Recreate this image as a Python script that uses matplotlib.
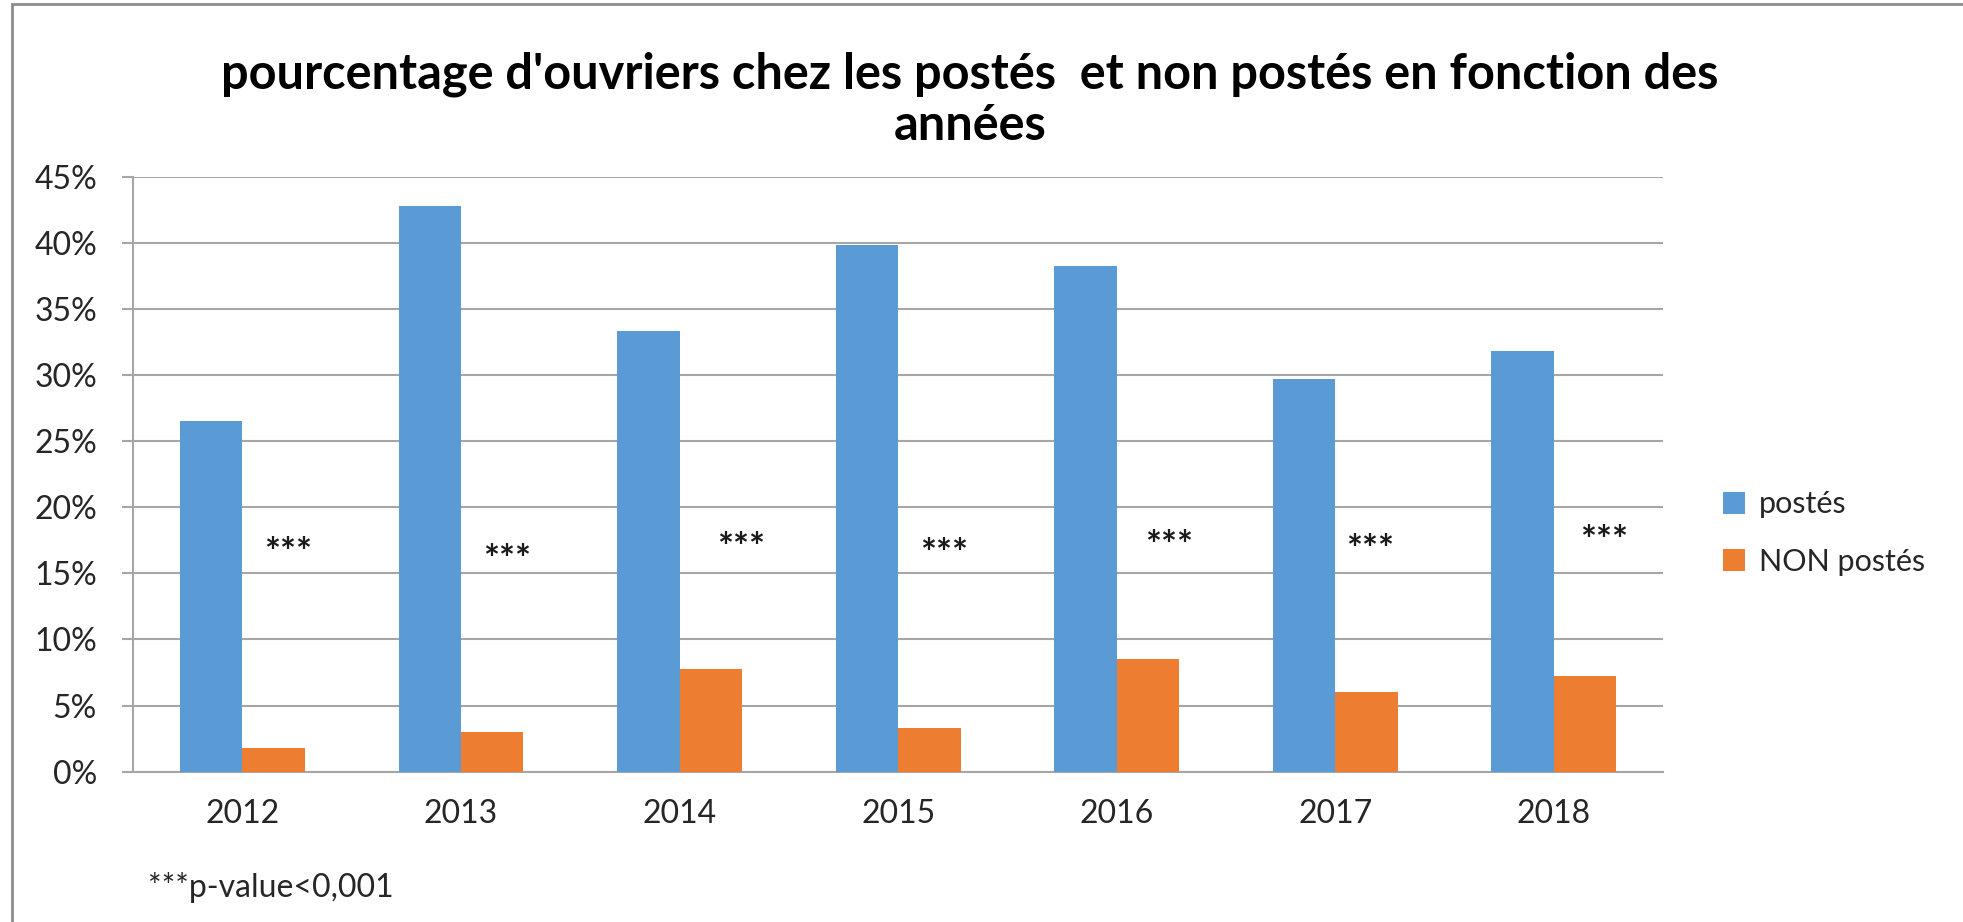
import matplotlib
matplotlib.use("Agg")
import matplotlib.pyplot as plt
import numpy as np
from matplotlib.patches import Rectangle

years = ['2012', '2013', '2014', '2015', '2016', '2017', '2018']
postes = [0.265, 0.428, 0.333, 0.398, 0.382, 0.297, 0.318]
non_postes = [0.018, 0.030, 0.078, 0.033, 0.085, 0.060, 0.072]
# where the *** marks sit (offset from category centre, height in %)
star_dx = [0.21, 0.21, 0.28, 0.21, 0.24, 0.16, 0.23]
star_y = [0.171, 0.166, 0.175, 0.170, 0.176, 0.173, 0.180]

plt.rcParams['font.family'] = ['Lato', 'DejaVu Sans']

fig = plt.figure(figsize=(19.63, 9.22), dpi=100)
ax = fig.add_axes([0.0678, 0.163, 0.7795, 0.6455])

x = np.arange(len(years))
w = 1 / 3.5
ax.bar(x - w / 2, postes, w, color='#5B9BD5', label='postés', zorder=3)
ax.bar(x + w / 2, non_postes, w, color='#ED7D31', label='NON postés', zorder=3)

for i in range(len(years)):
    ax.annotate('***', (x[i] + star_dx[i], star_y[i]), xytext=(0, -6),
                textcoords='offset points', ha='center', va='center',
                fontsize=27, fontweight='bold', color='#1a1a1a', zorder=4)

ax.set_xlim(-0.5, len(years) - 0.5)
ax.set_ylim(0, 0.45)
ax.set_yticks(np.arange(0, 0.451, 0.05))
ax.set_yticklabels([f'{int(round(v * 100))}%' for v in np.arange(0, 0.451, 0.05)])
ax.set_xticks(x)
ax.set_xticklabels(years)
ax.yaxis.grid(True, color='#a6a6a6', linewidth=1.5, zorder=0)
ax.tick_params(axis='y', length=8, width=1.5, color='#a6a6a6', labelsize=23,
               labelcolor='#262626', pad=18)
ax.tick_params(axis='x', length=0, labelsize=23, labelcolor='#262626', pad=20)
for s in ['top', 'right']:
    ax.spines[s].set_visible(False)
for s in ['left', 'bottom']:
    ax.spines[s].set_color('#a6a6a6')
    ax.spines[s].set_linewidth(1.5)

fig.text(0.494, 0.892,
         "pourcentage d'ouvriers chez les postés  et non postés en fonction des\nannées",
         ha='center', va='center', fontsize=35, fontweight='bold', linespacing=1.17)

fig.legend(loc='center left', bbox_to_anchor=(1695 / 1963, (922 - 533) / 922),
           frameon=False, fontsize=22, handlelength=0.75, handleheight=0.75,
           handletextpad=0.45, labelspacing=0.95, labelcolor='#262626')

fig.text(148 / 1963, (922 - 887) / 922, '***p-value<0,001', ha='left', va='center',
         fontsize=23, color='#262626')

fig.patches.append(Rectangle((12 / 1963, -0.05), 1.1, 1.05 - 4 / 922,
                             transform=fig.transFigure, fill=False,
                             edgecolor='#8c8c8c', linewidth=2))

fig.savefig('out.png', dpi=100)
